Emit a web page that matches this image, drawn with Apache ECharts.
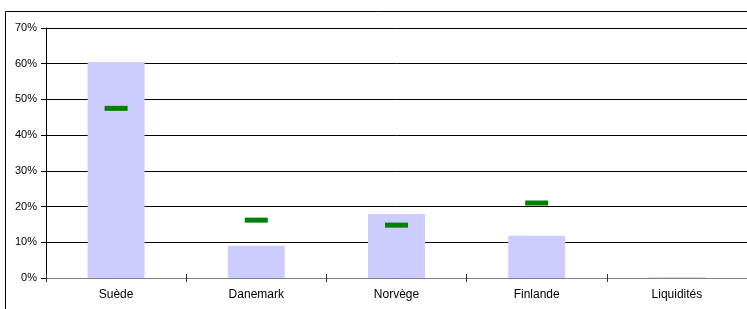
<!DOCTYPE html>
<html>
<head>
<meta charset="utf-8">
<script src="https://cdn.jsdelivr.net/npm/echarts@6/dist/echarts.min.js"></script>
<style>
  html, body { margin: 0; padding: 0; background: #fff; }
  #chart { width: 747px; height: 309px; }
</style>
</head>
<body>
<div id="chart"></div>
<script>
const categories = ["Suède", "Danemark", "Norvège", "Finlande", "Liquidités"];
const portfolioWeights = [60.5, 9.0, 17.9, 11.8, 0.2];
const benchmarkWeights = [47.5, 16.2, 14.8, 21.0, null];

const FONT = "Liberation Sans, Arial, sans-serif";

const chart = echarts.init(document.getElementById("chart"));

chart.setOption({
  animation: false,
  graphic: [
    {
      type: "rect",
      shape: { x: 5.5, y: 11.5, width: 800, height: 400 },
      style: { fill: "none", stroke: "#000", lineWidth: 1 },
      silent: true,
    },
  ],
  grid: { left: 46, top: 28, width: 705, height: 250, containLabel: false },
  xAxis: [
    {
      type: "category",
      data: categories,
      axisLine: { lineStyle: { color: "#808080", width: 1 } },
      axisTick: { show: true, length: 4, lineStyle: { color: "#333" } },
      axisLabel: { color: "#000", fontFamily: FONT, fontSize: 12, margin: 11 },
      splitLine: { show: false },
    },
    {
      type: "category",
      data: categories,
      position: "bottom",
      axisLine: { show: false },
      axisTick: { show: true, inside: true, length: 4, lineStyle: { color: "#333" } },
      axisLabel: { show: false },
      splitLine: { show: false },
    },
  ],
  yAxis: {
    type: "value",
    min: 0,
    max: 70,
    interval: 10,
    axisLine: { show: true, lineStyle: { color: "#000" } },
    axisTick: { show: true, length: 5, lineStyle: { color: "#000" } },
    axisLabel: {
      color: "#000",
      fontFamily: FONT,
      fontSize: 11,
      margin: 9,
      formatter: (v) => v + "%",
    },
    splitLine: { show: true, lineStyle: { color: "#000", width: 1 } },
  },
  series: [
    {
      name: "Portefeuille",
      type: "bar",
      data: portfolioWeights,
      barWidth: 57,
      itemStyle: { color: "#ccccff" },
    },
    {
      name: "Indice",
      type: "scatter",
      data: benchmarkWeights,
      symbol: "rect",
      symbolSize: [23, 5],
      itemStyle: { color: "#008000", opacity: 1 },
      z: 5,
    },
  ],
});
</script>
</body>
</html>
